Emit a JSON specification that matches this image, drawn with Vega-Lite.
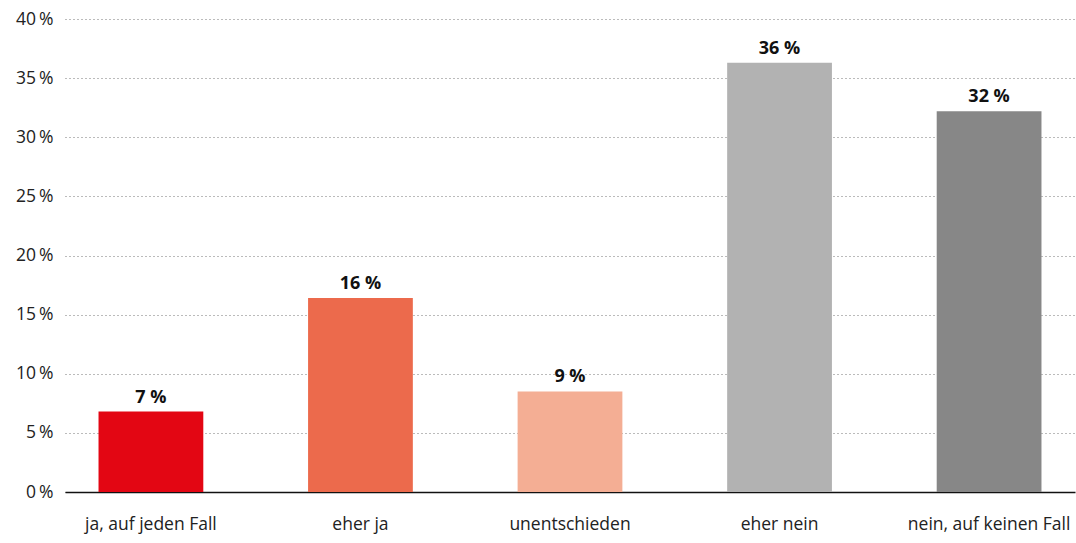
{
  "$schema": "https://vega.github.io/schema/vega-lite/v6.json",
  "autosize": "none",
  "width": 1010,
  "height": 473,
  "padding": {"left": 65, "top": 19, "right": 1, "bottom": 51},
  "background": "white",
  "config": {
    "view": {"stroke": null},
    "font": "Open Sans"
  },
  "data": {
    "values": [
      {"cat": "ja, auf jeden Fall", "value": 6.8, "label": "7 %", "color": "#e30613"},
      {"cat": "eher ja", "value": 16.4, "label": "16 %", "color": "#ec6a4c"},
      {"cat": "unentschieden", "value": 8.5, "label": "9 %", "color": "#f4ae94"},
      {"cat": "eher nein", "value": 36.3, "label": "36 %", "color": "#b2b2b2"},
      {"cat": "nein, auf keinen Fall", "value": 32.2, "label": "32 %", "color": "#878787"}
    ]
  },
  "encoding": {
    "x": {
      "field": "cat",
      "type": "nominal",
      "sort": null,
      "scale": {"paddingInner": 0.5, "paddingOuter": 0.16},
      "axis": {
        "title": null,
        "labelAngle": 0,
        "labelFontSize": 17.5,
        "labelColor": "#222",
        "labelPadding": 32,
        "labelBaseline": "middle",
        "ticks": false,
        "domainColor": "#111",
        "domainWidth": 1.5,
        "grid": false
      }
    },
    "y": {
      "field": "value",
      "type": "quantitative",
      "scale": {"domain": [0, 40], "nice": false},
      "axis": {
        "title": null,
        "values": [0, 5, 10, 15, 20, 25, 30, 35, 40],
        "labelExpr": "datum.value + '\u2009%'",
        "labelFontSize": 17.5,
        "labelColor": "#222",
        "labelPadding": 12,
        "ticks": false,
        "domain": false,
        "grid": true,
        "gridColor": "#777",
        "gridDash": [1, 3],
        "gridWidth": 1
      }
    }
  },
  "layer": [
    {
      "mark": {"type": "bar"},
      "encoding": {
        "color": {"field": "color", "type": "nominal", "scale": null}
      }
    },
    {
      "mark": {"type": "text", "baseline": "bottom", "dy": -5, "fontSize": 18, "fontWeight": "bold", "color": "#111"},
      "encoding": {
        "text": {"field": "label"}
      }
    }
  ]
}
